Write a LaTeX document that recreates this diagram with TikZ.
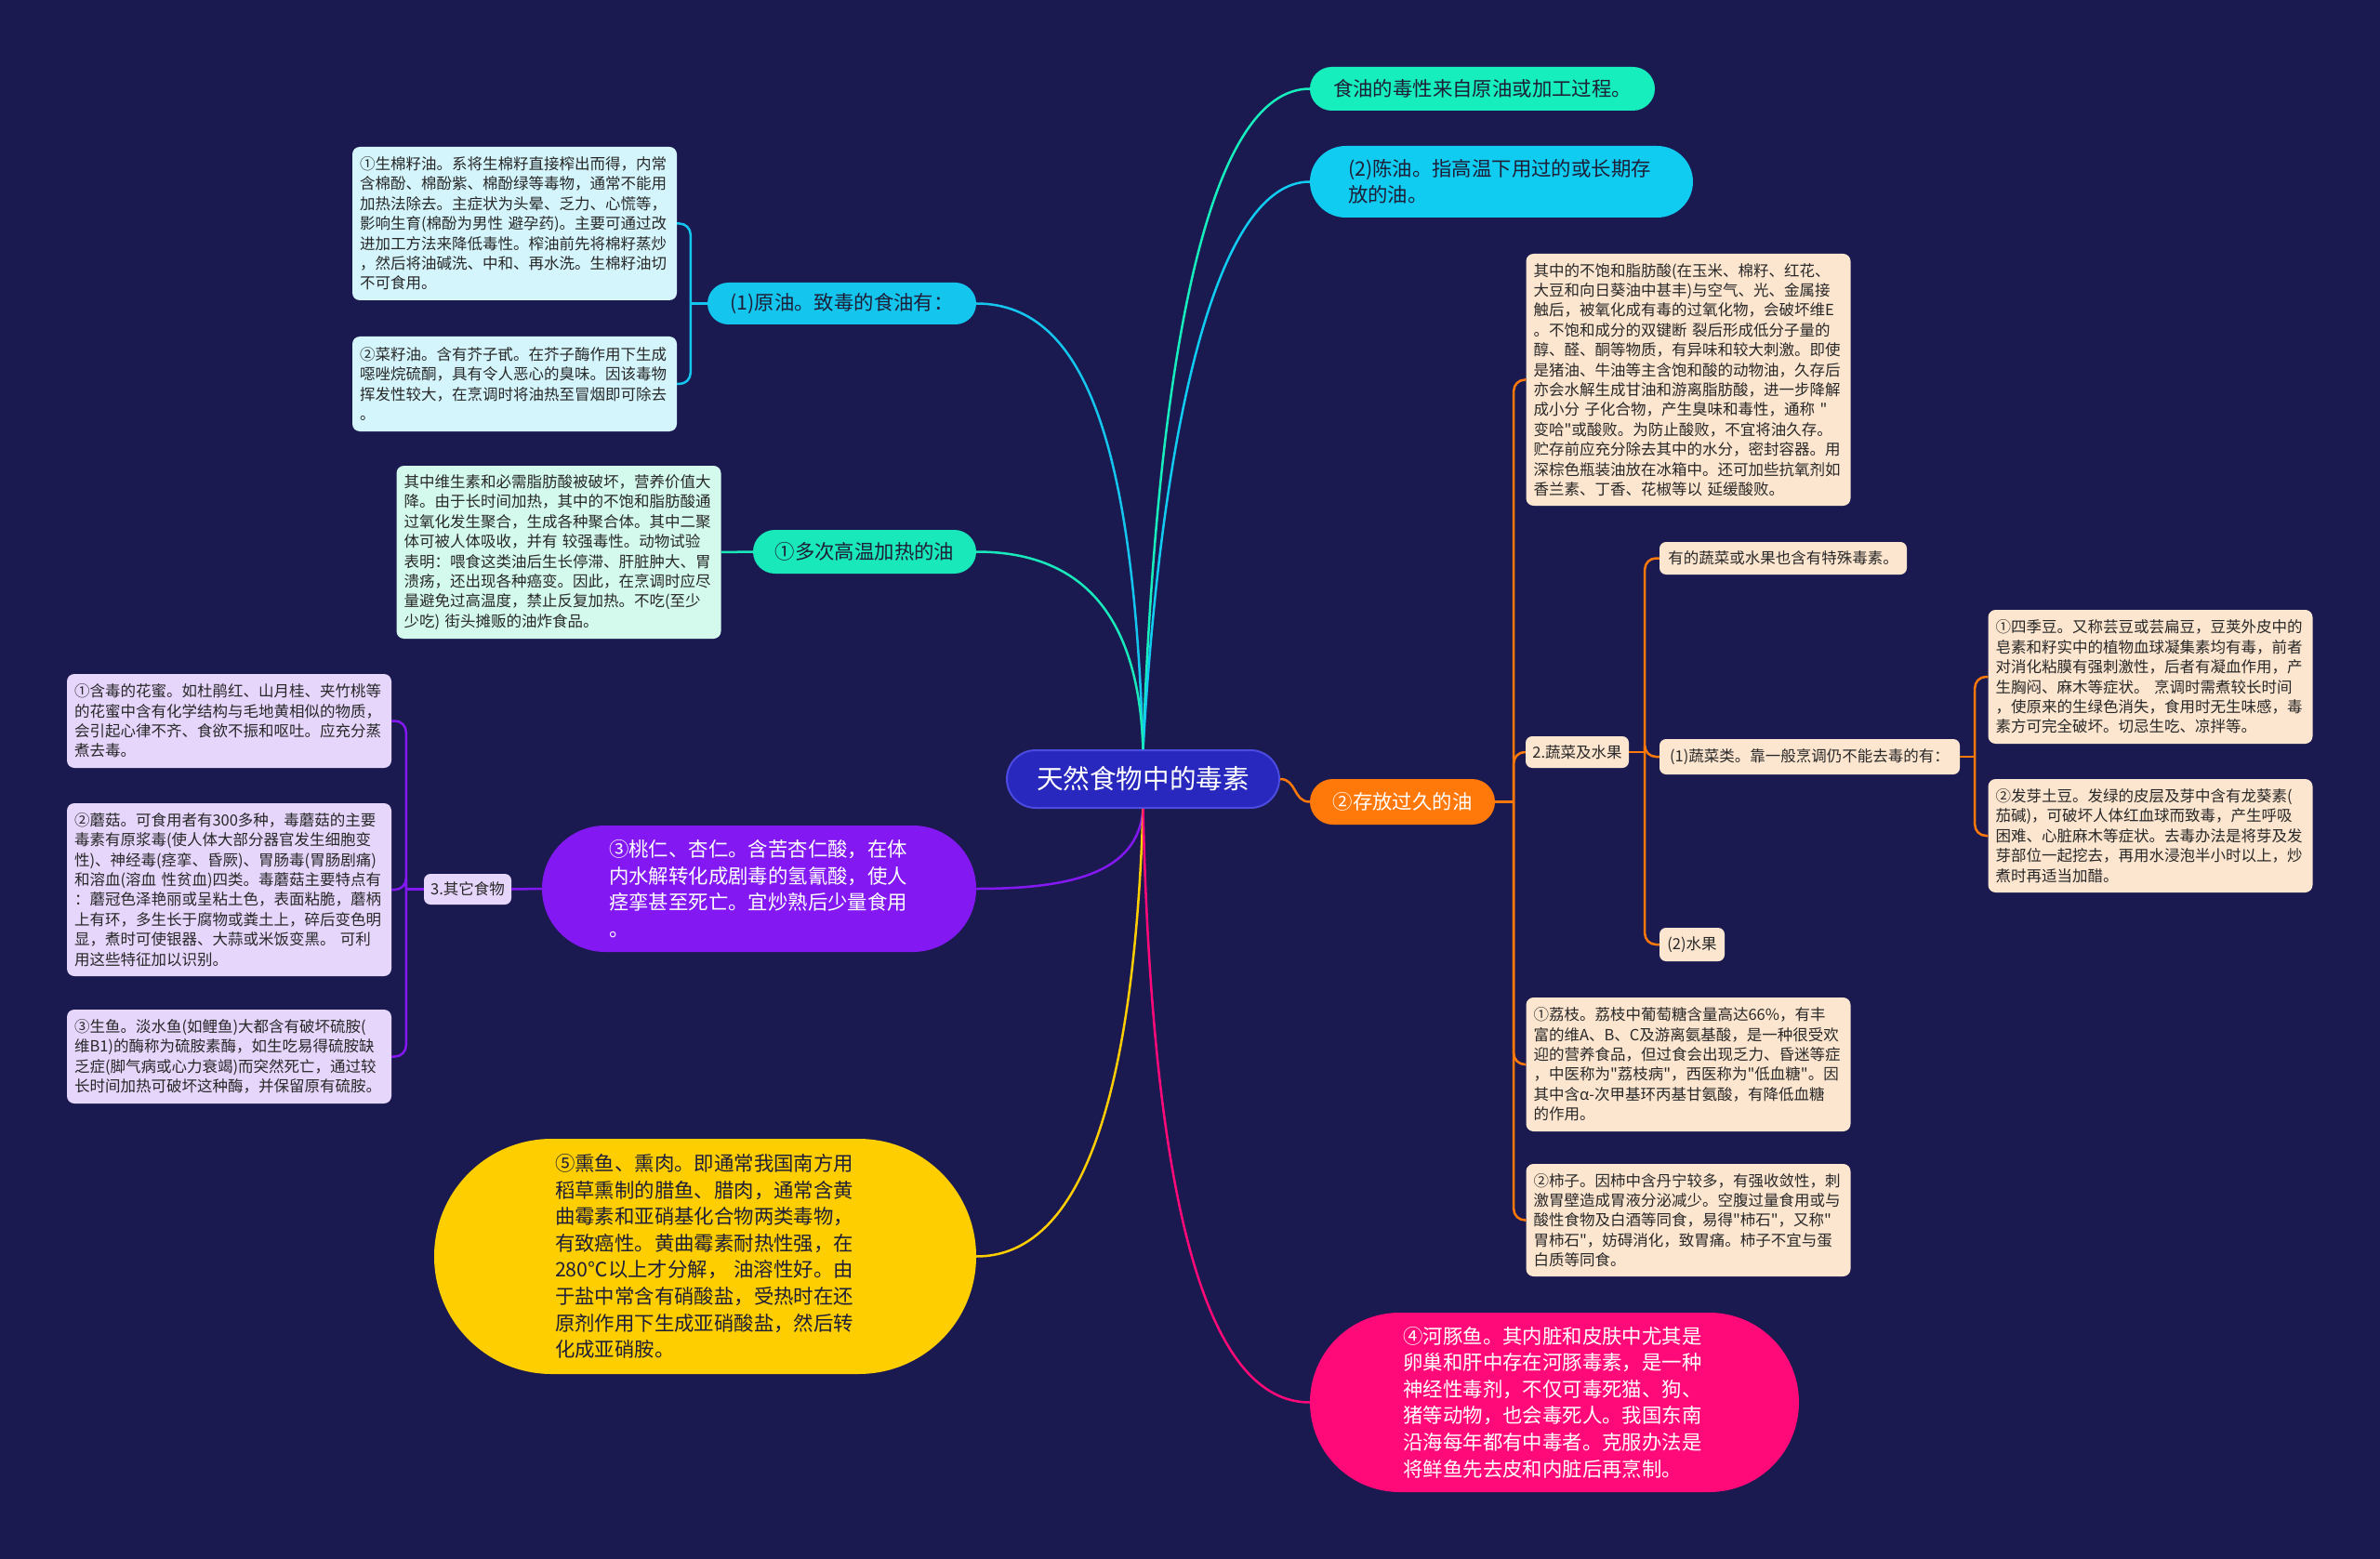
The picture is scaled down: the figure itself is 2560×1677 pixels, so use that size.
\documentclass[tikz,border=0pt]{standalone}
\usepackage{fontspec}
\newfontfamily\cjk{Noto Sans CJK SC}
\definecolor{bg}{RGB}{27,26,80}
\definecolor{centerfill}{RGB}{40,40,190}
\definecolor{centerdraw}{RGB}{75,75,225}
\definecolor{mint}{RGB}{22,238,190}
\definecolor{sky}{RGB}{16,204,240}
\definecolor{cyanb}{RGB}{20,198,238}
\definecolor{mint2}{RGB}{25,232,186}
\definecolor{purp}{RGB}{132,24,242}
\definecolor{yell}{RGB}{255,206,0}
\definecolor{pink}{RGB}{255,10,120}
\definecolor{orng}{RGB}{255,120,10}
\definecolor{lcyan}{RGB}{212,245,252}
\definecolor{lmint}{RGB}{212,250,238}
\definecolor{lpurp}{RGB}{231,214,252}
\definecolor{lpeach}{RGB}{253,230,208}
\definecolor{darktext}{RGB}{30,30,55}
\definecolor{leaftext}{RGB}{40,40,40}
\tikzset{
  leafbox/.style={rectangle, rounded corners=8pt, fill=#1, text=leaftext,
    font=\cjk\fontsize{16.5}{21.4}\selectfont, align=left,
    text width=333pt, minimum width=349pt, inner xsep=8pt, inner ysep=3pt},
  tagbox/.style={rectangle, rounded corners=7pt, fill=#1, text=leaftext,
    font=\cjk\fontsize{16.5}{21.4}\selectfont, align=center, inner sep=0pt},
  pill/.style={rectangle, fill=#1, font=\cjk\fontsize{21.4}{28.6}\selectfont,
    align=left, inner sep=0pt},
  mainline/.style={draw=#1, line width=2.5pt},
  brk/.style={draw=#1, line width=2.5pt, rounded corners=12pt},
}
\begin{document}
\begin{tikzpicture}[x=1pt,y=-1pt]
\fill[bg] (0,0) rectangle (2560,1677);
\useasboundingbox (0,0) rectangle (2560,1677);

% center
\node[rectangle, rounded corners=31pt, fill=centerfill, draw=centerdraw, line width=2pt,
  minimum width=293pt, minimum height=62pt, text=white,
  font=\cjk\fontsize{28.6}{34}\selectfont, inner sep=0pt] (C) at (1229.5,838) {天然食物中的毒素};

% level-2 nodes
\node[pill=mint, text=darktext, rounded corners=23.5pt, minimum width=371pt, minimum height=47pt] (N1) at (1594.5,95.5) {食油的毒性来自原油或加工过程。};
\node[pill=sky, text=darktext, rounded corners=38.5pt, minimum width=412pt, minimum height=77pt, text width=330pt] (N2) at (1615,195.5) {(2)陈油。指高温下用过的或长期存\\放的油。};
\node[pill=cyanb, text=darktext, rounded corners=22.5pt, minimum width=289pt, minimum height=45pt] (N3) at (905.5,326.5) {(1)原油。致毒的食油有：};
\node[pill=mint2, text=darktext, rounded corners=23.5pt, minimum width=240pt, minimum height=47pt] (N4) at (930,593.5) {①多次高温加热的油};
\node[pill=purp, text=white, rounded corners=68pt, minimum width=467pt, minimum height=136pt, text width=323pt] (N5) at (816.5,956) {③桃仁、杏仁。含苦杏仁酸，在体\\内水解转化成剧毒的氢氰酸，使人\\痉挛甚至死亡。宜炒熟后少量食用\\。};
\node[pill=yell, text=darktext, rounded corners=126.5pt, minimum width=583pt, minimum height=253pt, text width=323pt] (N6) at (758.5,1351.5) {⑤熏鱼、熏肉。即通常我国南方用\\稻草熏制的腊鱼、腊肉，通常含黄\\曲霉素和亚硝基化合物两类毒物，\\有致癌性。黄曲霉素耐热性强，在\\280℃以上才分解， 油溶性好。由\\于盐中常含有硝酸盐，受热时在还\\原剂作用下生成亚硝酸盐，然后转\\化成亚硝胺。};
\node[pill=pink, text=white, rounded corners=96.5pt, minimum width=526pt, minimum height=193pt, text width=325pt] (N7) at (1672,1508.5) {④河豚鱼。其内脏和皮肤中尤其是\\卵巢和肝中存在河豚毒素，是一种\\神经性毒剂，不仅可毒死猫、狗、\\猪等动物，也会毒死人。我国东南\\沿海每年都有中毒者。克服办法是\\将鲜鱼先去皮和内脏后再烹制。};
\node[pill=orng, text=white, rounded corners=24.5pt, minimum width=199pt, minimum height=49pt] (N8) at (1508.5,862.5) {②存放过久的油};

% left leaves
\node[leafbox=lcyan, minimum height=165pt] (L1) at (553.5,240.5) {①生棉籽油。系将生棉籽直接榨出而得，内常\\含棉酚、棉酚紫、棉酚绿等毒物，通常不能用\\加热法除去。主症状为头晕、乏力、心慌等，\\影响生育(棉酚为男性 避孕药)。主要可通过改\\进加工方法来降低毒性。榨油前先将棉籽蒸炒\\，然后将油碱洗、中和、再水洗。生棉籽油切\\不可食用。};
\node[leafbox=lcyan, minimum height=102pt] (L2) at (553.5,413) {②菜籽油。含有芥子甙。在芥子酶作用下生成\\噁唑烷硫酮，具有令人恶心的臭味。因该毒物\\挥发性较大，在烹调时将油热至冒烟即可除去\\。};
\node[leafbox=lmint, minimum height=186pt] (L3) at (601,594) {其中维生素和必需脂肪酸被破坏，营养价值大\\降。由于长时间加热，其中的不饱和脂肪酸通\\过氧化发生聚合，生成各种聚合体。其中二聚\\体可被人体吸收，并有 较强毒性。动物试验\\表明：喂食这类油后生长停滞、肝脏肿大、胃\\溃疡，还出现各种癌变。因此，在烹调时应尽\\量避免过高温度，禁止反复加热。不吃(至少\\少吃) 街头摊贩的油炸食品。};
\node[tagbox=lpurp, minimum width=94pt, minimum height=33pt] (P0) at (503,956.5) {3.其它食物};
\node[leafbox=lpurp, minimum height=101pt] (PA) at (246.5,775.5) {①含毒的花蜜。如杜鹃红、山月桂、夹竹桃等\\的花蜜中含有化学结构与毛地黄相似的物质，\\会引起心律不齐、食欲不振和呕吐。应充分蒸\\煮去毒。};
\node[leafbox=lpurp, minimum height=186pt] (PB) at (246.5,957) {②蘑菇。可食用者有300多种，毒蘑菇的主要\\毒素有原浆毒(使人体大部分器官发生细胞变\\性)、神经毒(痉挛、昏厥)、胃肠毒(胃肠剧痛)\\和溶血(溶血 性贫血)四类。毒蘑菇主要特点有\\：蘑冠色泽艳丽或呈粘土色，表面粘脆，蘑柄\\上有环，多生长于腐物或粪土上，碎后变色明\\显，煮时可使银器、大蒜或米饭变黑。 可利\\用这些特征加以识别。};
\node[leafbox=lpurp, minimum height=101pt] (PC) at (246.5,1136.5) {③生鱼。淡水鱼(如鲤鱼)大都含有破坏硫胺(\\维B1)的酶称为硫胺素酶，如生吃易得硫胺缺\\乏症(脚气病或心力衰竭)而突然死亡，通过较\\长时间加热可破坏这种酶，并保留原有硫胺。};

% right leaves
\node[leafbox=lpeach, minimum height=271pt] (R1) at (1816,408.5) {其中的不饱和脂肪酸(在玉米、棉籽、红花、\\大豆和向日葵油中甚丰)与空气、光、金属接\\触后，被氧化成有毒的过氧化物，会破坏维E\\。不饱和成分的双键断 裂后形成低分子量的\\醇、醛、酮等物质，有异味和较大刺激。即使\\是猪油、牛油等主含饱和酸的动物油，久存后\\亦会水解生成甘油和游离脂肪酸，进一步降解\\成小分 子化合物，产生臭味和毒性，通称 "\\变哈"或酸败。为防止酸败，不宜将油久存。\\贮存前应充分除去其中的水分，密封容器。用\\深棕色瓶装油放在冰箱中。还可加些抗氧剂如\\香兰素、丁香、花椒等以 延缓酸败。};
\node[tagbox=lpeach, minimum width=111pt, minimum height=34pt] (R2) at (1696.5,809) {2.蔬菜及水果};
\node[leafbox=lpeach, minimum height=144pt] (R3) at (1816,1145) {①荔枝。荔枝中葡萄糖含量高达66\%，有丰\\富的维A、B、C及游离氨基酸，是一种很受欢\\迎的营养食品，但过食会出现乏力、昏迷等症\\，中医称为"荔枝病"，西医称为"低血糖"。因\\其中含α-次甲基环丙基甘氨酸，有降低血糖\\的作用。};
\node[leafbox=lpeach, minimum height=121pt] (R4) at (1816,1312.5) {②柿子。因柿中含丹宁较多，有强收敛性，刺\\激胃壁造成胃液分泌减少。空腹过量食用或与\\酸性食物及白酒等同食，易得"柿石"，又称"\\胃柿石"，妨碍消化，致胃痛。柿子不宜与蛋\\白质等同食。};
\node[tagbox=lpeach, minimum width=266pt, minimum height=35pt] (S1) at (1918,600.5) {有的蔬菜或水果也含有特殊毒素。};
\node[tagbox=lpeach, minimum width=323pt, minimum height=38pt] (S2) at (1946.5,814) {(1)蔬菜类。靠一般烹调仍不能去毒的有：};
\node[tagbox=lpeach, minimum width=70pt, minimum height=36pt] (S3) at (1820,1016) {(2)水果};
\node[leafbox=lpeach, minimum height=144pt] (T1) at (2313,728) {①四季豆。又称芸豆或芸扁豆，豆荚外皮中的\\皂素和籽实中的植物血球凝集素均有毒，前者\\对消化粘膜有强刺激性，后者有凝血作用，产\\生胸闷、麻木等症状。 烹调时需煮较长时间\\，使原来的生绿色消失，食用时无生味感，毒\\素方可完全破坏。切忌生吃、凉拌等。};
\node[leafbox=lpeach, minimum height=122pt] (T2) at (2313,899) {②发芽土豆。发绿的皮层及芽中含有龙葵素(\\茄碱)，可破坏人体红血球而致毒，产生呼吸\\困难、心脏麻木等症状。去毒办法是将芽及发\\芽部位一起挖去，再用水浸泡半小时以上，炒\\煮时再适当加醋。};

% main curves
\draw[mainline=mint] (C.north) .. controls +(15,-420) and +(-110,0) .. (N1.west);
\draw[mainline=sky] (C.north) .. controls +(20,-350) and +(-100,0) .. (N2.west);
\draw[mainline=cyanb] (C.north) .. controls +(-10,-320) and +(120,0) .. (N3.east);
\draw[mainline=mint2] (C.north) .. controls +(-5,-160) and +(100,0) .. (N4.east);
\draw[mainline=orng] (C.east) .. controls +(18,0) and +(-18,0) .. (N8.west);
\draw[mainline=purp] (C.south) .. controls +(-5,70) and +(100,0) .. (N5.east);
\draw[mainline=yell] (C.south) .. controls +(-10,320) and +(110,0) .. (N6.east);
\draw[mainline=pink] (C.south) .. controls +(10,430) and +(-110,0) .. (N7.west);

% straight links
\draw[mainline=mint2] (N4.west) -- (L3.east);
\draw[mainline=purp] (N5.west) -- (P0.east);

% brackets: stub to a junction, then one rounded corner into each child
\draw[mainline=cyanb] (N3.west) -- ++(-18,0) coordinate (j3);
\draw[brk=cyanb] (j3) |- (L1.east);
\draw[brk=cyanb] (j3) |- (L2.east);
\draw[mainline=purp] (P0.west) -- ++(-19,0) coordinate (jp);
\draw[brk=purp] (jp) |- (PA.east);
\draw[brk=purp] (jp) |- (PB.east);
\draw[brk=purp] (jp) |- (PC.east);
\draw[mainline=orng] (N8.east) -- ++(20,0) coordinate (j8);
\draw[brk=orng] (j8) |- (R1.west);
\draw[brk=orng] (j8) |- (R2.west);
\draw[brk=orng] (j8) |- (R3.west);
\draw[brk=orng] (j8) |- (R4.west);
\draw[mainline=orng] (R2.east) -- ++(17,0) coordinate (jr);
\draw[brk=orng] (jr) |- (S1.west);
\draw[brk=orng] (jr) |- (S2.west);
\draw[brk=orng] (jr) |- (S3.west);
\draw[mainline=orng] (S2.east) -- ++(16,0) coordinate (js);
\draw[brk=orng] (js) |- (T1.west);
\draw[brk=orng] (js) |- (T2.west);
\end{tikzpicture}
\end{document}
